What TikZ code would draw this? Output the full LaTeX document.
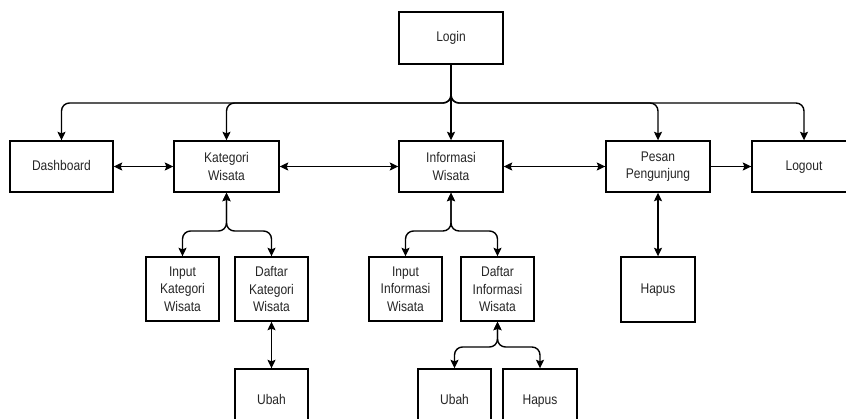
\documentclass[tikz,border=0pt]{standalone}
\usepackage{fontspec}
\setmainfont{Liberation Sans}[FakeStretch=0.86]
\usetikzlibrary{arrows.meta}
\begin{document}
\begin{tikzpicture}[x=1pt,y=-1pt,
  box/.style={draw=black, line width=1.4pt, fill=white, minimum width=#1, inner sep=0pt,
    align=center, font=\fontsize{14}{17.7}\selectfont, text=black!85},
  box/.default=104pt,
  link/.style={line width=1.4pt, draw=black, rounded corners=8pt},
  tip/.style={-{Stealth[length=8.5pt,width=8pt,inset=1.5pt]}},
  tips/.style={{Stealth[length=8.5pt,width=8pt,inset=1.5pt]}-{Stealth[length=8.5pt,width=8pt,inset=1.5pt]}}]
\clip (0,0) rectangle (846,418);
\fill[white] (0,0) rectangle (846,418);

% top level
\node[box, minimum height=52pt] (login) at (451,38) {\strut Login};
\node[box=103pt, minimum height=51pt] (dash) at (61.5,166.5) {\strut Dashboard};
\node[box=105pt, minimum height=51pt] (kat) at (226.5,166.5) {Kategori\\Wisata};
\node[box, minimum height=51pt] (info) at (451,166.5) {Informasi\\Wisata};
\node[box, minimum height=51pt] (pesan) at (658,166.5) {Pesan\\Pengunjung};
\node[box, minimum height=51pt] (logout) at (804,166.5) {\strut Logout};

% second level
\node[box=73pt, minimum height=64pt] (inkat) at (182.5,289) {Input\\Kategori\\Wisata};
\node[box=73pt, minimum height=64pt] (dfkat) at (271.5,289) {Daftar\\Kategori\\Wisata};
\node[box=73pt, minimum height=64pt] (ininfo) at (405.5,289) {Input\\Informasi\\Wisata};
\node[box=73pt, minimum height=64pt] (dfinfo) at (497.5,289) {Daftar\\Informasi\\Wisata};
\node[box=74pt, minimum height=65pt] (hapus1) at (658,289.5) {\strut Hapus};

% third level
\node[box=73pt, minimum height=64pt] (ubah1) at (271.5,401) {\strut Ubah};
\node[box=73pt, minimum height=64pt] (ubah2) at (454.5,401) {\strut Ubah};
\node[box=74pt, minimum height=64pt] (hapus2) at (540,401) {\strut Hapus};

% junction rows
\coordinate (bus) at (451,103);
\coordinate (katbus) at (226.5,231);
\coordinate (infobus) at (451,231);
\coordinate (dfbus) at (497.5,347);

% login to the main menu
\foreach \t in {dash,kat,pesan,logout}
  \draw[link,tip] (login.south) -- (login.south |- bus) -| (\t.north);
\draw[link,tip] (login.south) -- (info.north);

% main menu row
\draw[link,tips] (dash.east) -- (kat.west);
\draw[link,tips] (kat.east) -- (info.west);
\draw[link,tips] (info.east) -- (pesan.west);
\draw[link,tip] (pesan.east) -- (logout.west);

% sub menus
\foreach \t in {inkat,dfkat}
  \draw[link,tips] (kat.south) -- (kat.south |- katbus) -| (\t.north);
\foreach \t in {ininfo,dfinfo}
  \draw[link,tips] (info.south) -- (info.south |- infobus) -| (\t.north);
\foreach \t in {ubah2,hapus2}
  \draw[link,tips] (dfinfo.south) -- (dfinfo.south |- dfbus) -| (\t.north);
\draw[link,tips] (dfkat.south) -- (ubah1.north);
\draw[link,tips] (pesan.south) -- (hapus1.north);
\end{tikzpicture}
\end{document}
